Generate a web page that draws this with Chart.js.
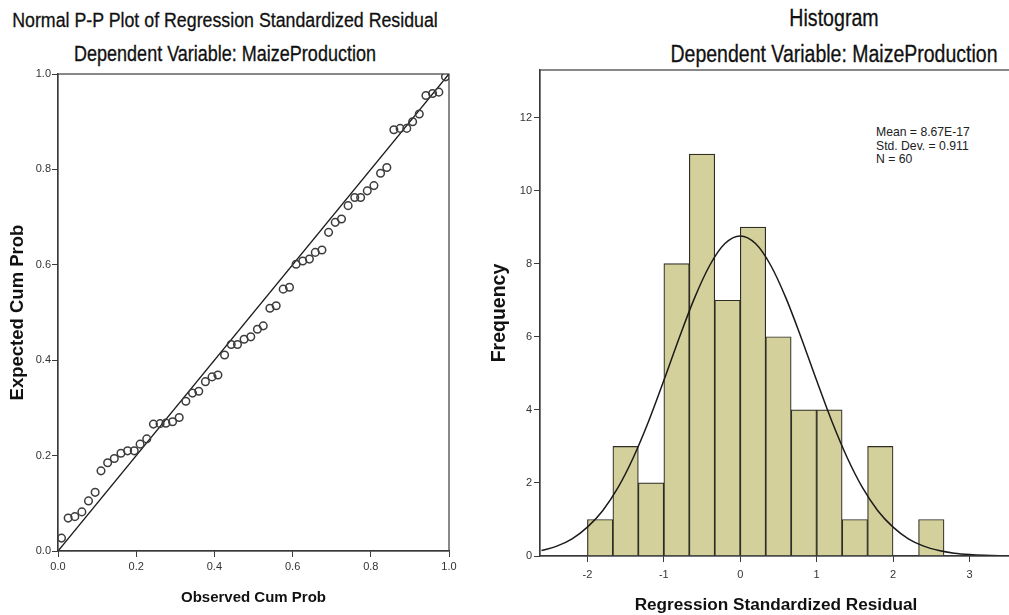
<!DOCTYPE html>
<html>
<head>
<meta charset="utf-8">
<script src="https://cdn.jsdelivr.net/npm/chart.js@4.4.1/dist/chart.umd.min.js"></script>
<style>
    body { margin: 0; background: #fff; overflow: hidden; width: 1009px; height: 615px; position: relative; font-family: "Liberation Sans", Arial, sans-serif; color: #111; }
    canvas { position: absolute; top: 0; }
    #ppChart { left: 0; }
    #histChart { left: 490px; }
    .ttl { position: absolute; white-space: nowrap; transform: translate(-50%, -50%) scaleY(1.18); -webkit-text-stroke: 0.25px #111; }
    .stats { position: absolute; left: 876px; top: 126px; font-size: 12.2px; line-height: 13.5px; color: #222; }
</style>
</head>
<body>
<div class="ttl" style="left:225px; top:21px; font-size:17.8px;">Normal P-P Plot of Regression Standardized Residual</div>
<div class="ttl" style="left:225px; top:55px; font-size:18px;">Dependent Variable: MaizeProduction</div>
<div class="ttl" style="left:834px; top:17.5px; font-size:19.6px;">Histogram</div>
<div class="ttl" style="left:834px; top:53.5px; font-size:19.5px;">Dependent Variable: MaizeProduction</div>
<div class="stats">Mean = 8.67E-17<br>Std. Dev. = 0.911<br>N = 60</div>

<canvas id="ppChart" width="470" height="615"></canvas>
<canvas id="histChart" width="522" height="615"></canvas>

<script>
// P-P plot points
const observedCum = [0.009, 0.026, 0.043, 0.061, 0.078, 0.095, 0.110, 0.127, 0.144, 0.161,
    0.178, 0.195, 0.210, 0.227, 0.244, 0.261, 0.276, 0.293, 0.310, 0.327,
    0.344, 0.360, 0.377, 0.394, 0.409, 0.426, 0.443, 0.459, 0.476, 0.493,
    0.510, 0.525, 0.542, 0.558, 0.576, 0.592, 0.609, 0.626, 0.643, 0.658,
    0.675, 0.692, 0.709, 0.725, 0.742, 0.759, 0.774, 0.791, 0.808, 0.825,
    0.841, 0.859, 0.875, 0.892, 0.907, 0.924, 0.941, 0.958, 0.974, 0.991];
const expectedCum = [0.027, 0.069, 0.072, 0.082, 0.105, 0.123, 0.168, 0.185, 0.194, 0.205,
    0.210, 0.210, 0.224, 0.235, 0.266, 0.267, 0.268, 0.271, 0.280, 0.314,
    0.331, 0.335, 0.355, 0.365, 0.369, 0.411, 0.433, 0.433, 0.444, 0.449,
    0.465, 0.472, 0.509, 0.514, 0.549, 0.553, 0.601, 0.608, 0.612, 0.626,
    0.631, 0.668, 0.689, 0.696, 0.724, 0.741, 0.741, 0.755, 0.766, 0.792,
    0.804, 0.883, 0.886, 0.886, 0.900, 0.916, 0.955, 0.959, 0.962, 0.994];
const diagonal = [0, 1];
const ppTicks = [0, 0.2, 0.4, 0.6, 0.8, 1.0];

// histogram
const binCenters = [-1.833, -1.5, -1.167, -0.833, -0.5, -0.167, 0.167, 0.5, 0.833, 1.167, 1.5, 1.833, 2.167, 2.5];
const frequencies = [1, 3, 2, 8, 11, 7, 9, 6, 4, 4, 1, 3, 0, 1];
const curveX = [-2.6, -2.4, -2.2, -2.0, -1.8, -1.6, -1.4, -1.2, -1.0, -0.8, -0.6, -0.4, -0.2, 0,
    0.2, 0.4, 0.6, 0.8, 1.0, 1.2, 1.4, 1.6, 1.8, 2.0, 2.2, 2.4, 2.6, 2.8, 3.0, 3.2, 3.4, 3.6];
const curveY = [0.15, 0.27, 0.47, 0.79, 1.24, 1.87, 2.69, 3.68, 4.80, 5.96, 7.05, 7.95, 8.55, 8.76,
    8.55, 7.95, 7.05, 5.96, 4.80, 3.68, 2.69, 1.87, 1.24, 0.79, 0.47, 0.27, 0.15, 0.078, 0.039, 0.018, 0.008, 0.004];
const histXTicks = [-2, -1, 0, 1, 2, 3];
const histYTicks = [0, 2, 4, 6, 8, 10, 12];

const axisColor = '#3a3a3a';
const fam = '"Liberation Sans", Arial, sans-serif';
const tickFont = { family: fam, size: 11 };

// box round the plot area
const framePlugin = {
    id: 'frame',
    afterDatasetsDraw(chart) {
        const a = chart.chartArea;
        const c = chart.ctx;
        c.save();
        c.strokeStyle = axisColor;
        c.lineWidth = 1.2;
        c.strokeRect(a.left, a.top, a.right - a.left, a.bottom - a.top);
        c.restore();
    }
};

function fixedTicks(list) {
    return scale => { scale.ticks = list.map(v => ({ value: v })); };
}

function axis(opts) {
    return Object.assign({
        type: 'linear',
        offset: false,
        grid: { display: true, offset: false, drawOnChartArea: false, drawTicks: true, tickLength: 6, color: axisColor },
        border: { display: true, color: axisColor, width: 1.2 }
    }, opts);
}

function axisTitle(text, size, pad) {
    return { display: true, text: text, color: '#111', font: { family: fam, size: size, weight: 'bold', lineHeight: 1 }, padding: pad };
}

new Chart(document.getElementById('ppChart'), {
    type: 'scatter',
    data: {
        datasets: [
            {
                type: 'line',
                data: diagonal.map(v => ({ x: v, y: v })),
                borderColor: '#1a1a1a',
                borderWidth: 1.4,
                pointRadius: 0,
                order: 1
            },
            {
                data: observedCum.map((v, i) => ({ x: v, y: expectedCum[i] })),
                backgroundColor: 'rgba(0,0,0,0)',
                borderColor: '#3c3c3c',
                borderWidth: 1.5,
                pointRadius: 3.8,
                order: 0
            }
        ]
    },
    options: {
        responsive: false,
        animation: false,
        devicePixelRatio: 1,
        layout: { padding: { top: 74, right: 21, bottom: 0, left: 0 } },
        plugins: { legend: { display: false }, tooltip: { enabled: false } },
        scales: {
            x: axis({
                min: 0, max: 1,
                afterBuildTicks: fixedTicks(ppTicks),
                afterFit: s => { s.height = 64; },
                ticks: { color: '#333', font: tickFont, padding: 3, maxRotation: 0, callback: v => v.toFixed(1) },
                title: axisTitle('Observed Cum Prob', 15, { top: 0, bottom: 9.5 })
            }),
            y: axis({
                min: 0, max: 1,
                afterBuildTicks: fixedTicks(ppTicks),
                afterFit: s => { s.width = 58; },
                ticks: { color: '#333', font: tickFont, padding: 1, callback: v => v.toFixed(1) },
                title: axisTitle('Expected Cum Prob', 18.5, { top: 8.75, bottom: 0 })
            })
        }
    },
    plugins: [framePlugin]
});

new Chart(document.getElementById('histChart'), {
    type: 'bar',
    data: {
        datasets: [
            {
                type: 'line',
                data: curveX.map((v, i) => ({ x: v, y: curveY[i] })),
                borderColor: '#1a1a1a',
                borderWidth: 1.5,
                pointRadius: 0,
                cubicInterpolationMode: 'monotone',
                order: 0
            },
            {
                data: binCenters.map((v, i) => ({ x: v, y: frequencies[i] })),
                backgroundColor: '#d4d09b',
                borderColor: '#2e2e26',
                borderWidth: 1.2,
                borderSkipped: 'bottom',
                barPercentage: 1,
                categoryPercentage: 1,
                grouped: false,
                order: 1
            }
        ]
    },
    options: {
        responsive: false,
        animation: false,
        devicePixelRatio: 1,
        layout: { padding: { top: 70, right: 0, bottom: 0, left: 0 } },
        plugins: { legend: { display: false }, tooltip: { enabled: false } },
        scales: {
            x: axis({
                min: -2.62, max: 3.556,
                afterBuildTicks: fixedTicks(histXTicks),
                afterFit: s => { s.height = 615 - 556; },
                ticks: { color: '#333', font: tickFont, padding: 6, maxRotation: 0 },
                title: axisTitle('Regression Standardized Residual', 17.2, { top: 0, bottom: 1.4 })
            }),
            y: axis({
                min: 0, max: 13.3,
                afterBuildTicks: fixedTicks(histYTicks),
                afterFit: s => { s.width = 50; },
                ticks: { color: '#333', font: tickFont, padding: 2 },
                title: axisTitle('Frequency', 19.5, { top: 0, bottom: 0 })
            })
        }
    },
    plugins: [framePlugin]
});
</script>
</body>
</html>
